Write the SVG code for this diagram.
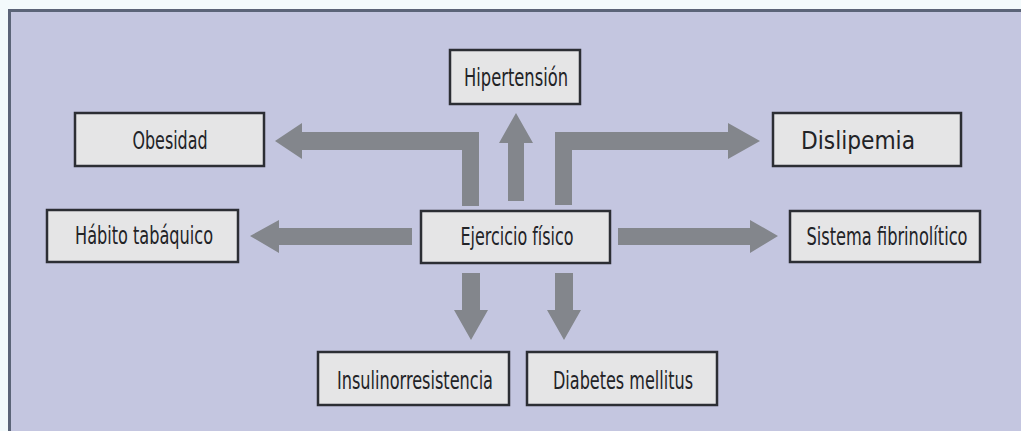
<svg xmlns="http://www.w3.org/2000/svg" width="1021" height="431" viewBox="0 0 1021 431">
<style>
.box{fill:#e5e5e6;stroke:#2c2e34;stroke-width:2.5}
.lbl{font-family:"DejaVu Sans Condensed","DejaVu Sans",sans-serif;font-stretch:condensed;font-size:24px;fill:#222327;text-anchor:middle}
.arr{fill:#83868c}
</style>
<rect x="0" y="0" width="1021" height="431" fill="#f3fafc"/>
<rect x="9.5" y="10.5" width="1020" height="430" fill="#c4c6e0" stroke="#5b6478" stroke-width="3"/>
<g id="connectors">
<polygon class="arr" points="479,206 479,132 302,132 302,123 275,141 302,159 302,150 462,150 462,206"/>
<polygon class="arr" points="508,201 508,143 499,143 516,113 533,143 524,143 524,201"/>
<polygon class="arr" points="555,205 555,132 728,132 728,123 760,141 728,159 728,150 572,150 572,205"/>
<polygon class="arr" points="412,228 279,228 279,220 250,236 279,253 279,245 412,245"/>
<polygon class="arr" points="618,228 750,228 750,220 778,236 750,253 750,245 618,245"/>
<polygon class="arr" points="462,273 462,310 454,310 471,340 488,310 480,310 480,273"/>
<polygon class="arr" points="555,273 555,310 547,310 564,340 581,310 573,310 573,273"/>
</g>
<g id="hipertension"><rect class="box" x="450" y="50" width="130" height="54"/><text class="lbl" x="516" y="86" textLength="104" lengthAdjust="spacingAndGlyphs">Hipertensión</text></g>
<g id="obesidad"><rect class="box" x="75" y="113" width="189" height="53"/><text class="lbl" x="170" y="149" textLength="75" lengthAdjust="spacingAndGlyphs">Obesidad</text></g>
<g id="dislipemia"><rect class="box" x="773" y="113" width="188" height="53"/><text class="lbl" x="858" y="149" textLength="114" lengthAdjust="spacingAndGlyphs">Dislipemia</text></g>
<g id="habito"><rect class="box" x="47" y="210" width="191" height="52"/><text class="lbl" x="144" y="244" textLength="138" lengthAdjust="spacingAndGlyphs">Hábito tabáquico</text></g>
<g id="ejercicio"><rect class="box" x="421" y="211" width="189" height="52"/><text class="lbl" x="517" y="245" textLength="113" lengthAdjust="spacingAndGlyphs">Ejercicio físico</text></g>
<g id="sistema"><rect class="box" x="790" y="211" width="190" height="51"/><text class="lbl" x="887" y="245" textLength="161" lengthAdjust="spacingAndGlyphs">Sistema fibrinolítico</text></g>
<g id="insulinorresistencia"><rect class="box" x="318" y="352" width="191" height="53"/><text class="lbl" x="415" y="389" textLength="156" lengthAdjust="spacingAndGlyphs">Insulinorresistencia</text></g>
<g id="diabetes"><rect class="box" x="527" y="352" width="190" height="53"/><text class="lbl" x="623" y="389" textLength="140" lengthAdjust="spacingAndGlyphs">Diabetes mellitus</text></g>
</svg>
